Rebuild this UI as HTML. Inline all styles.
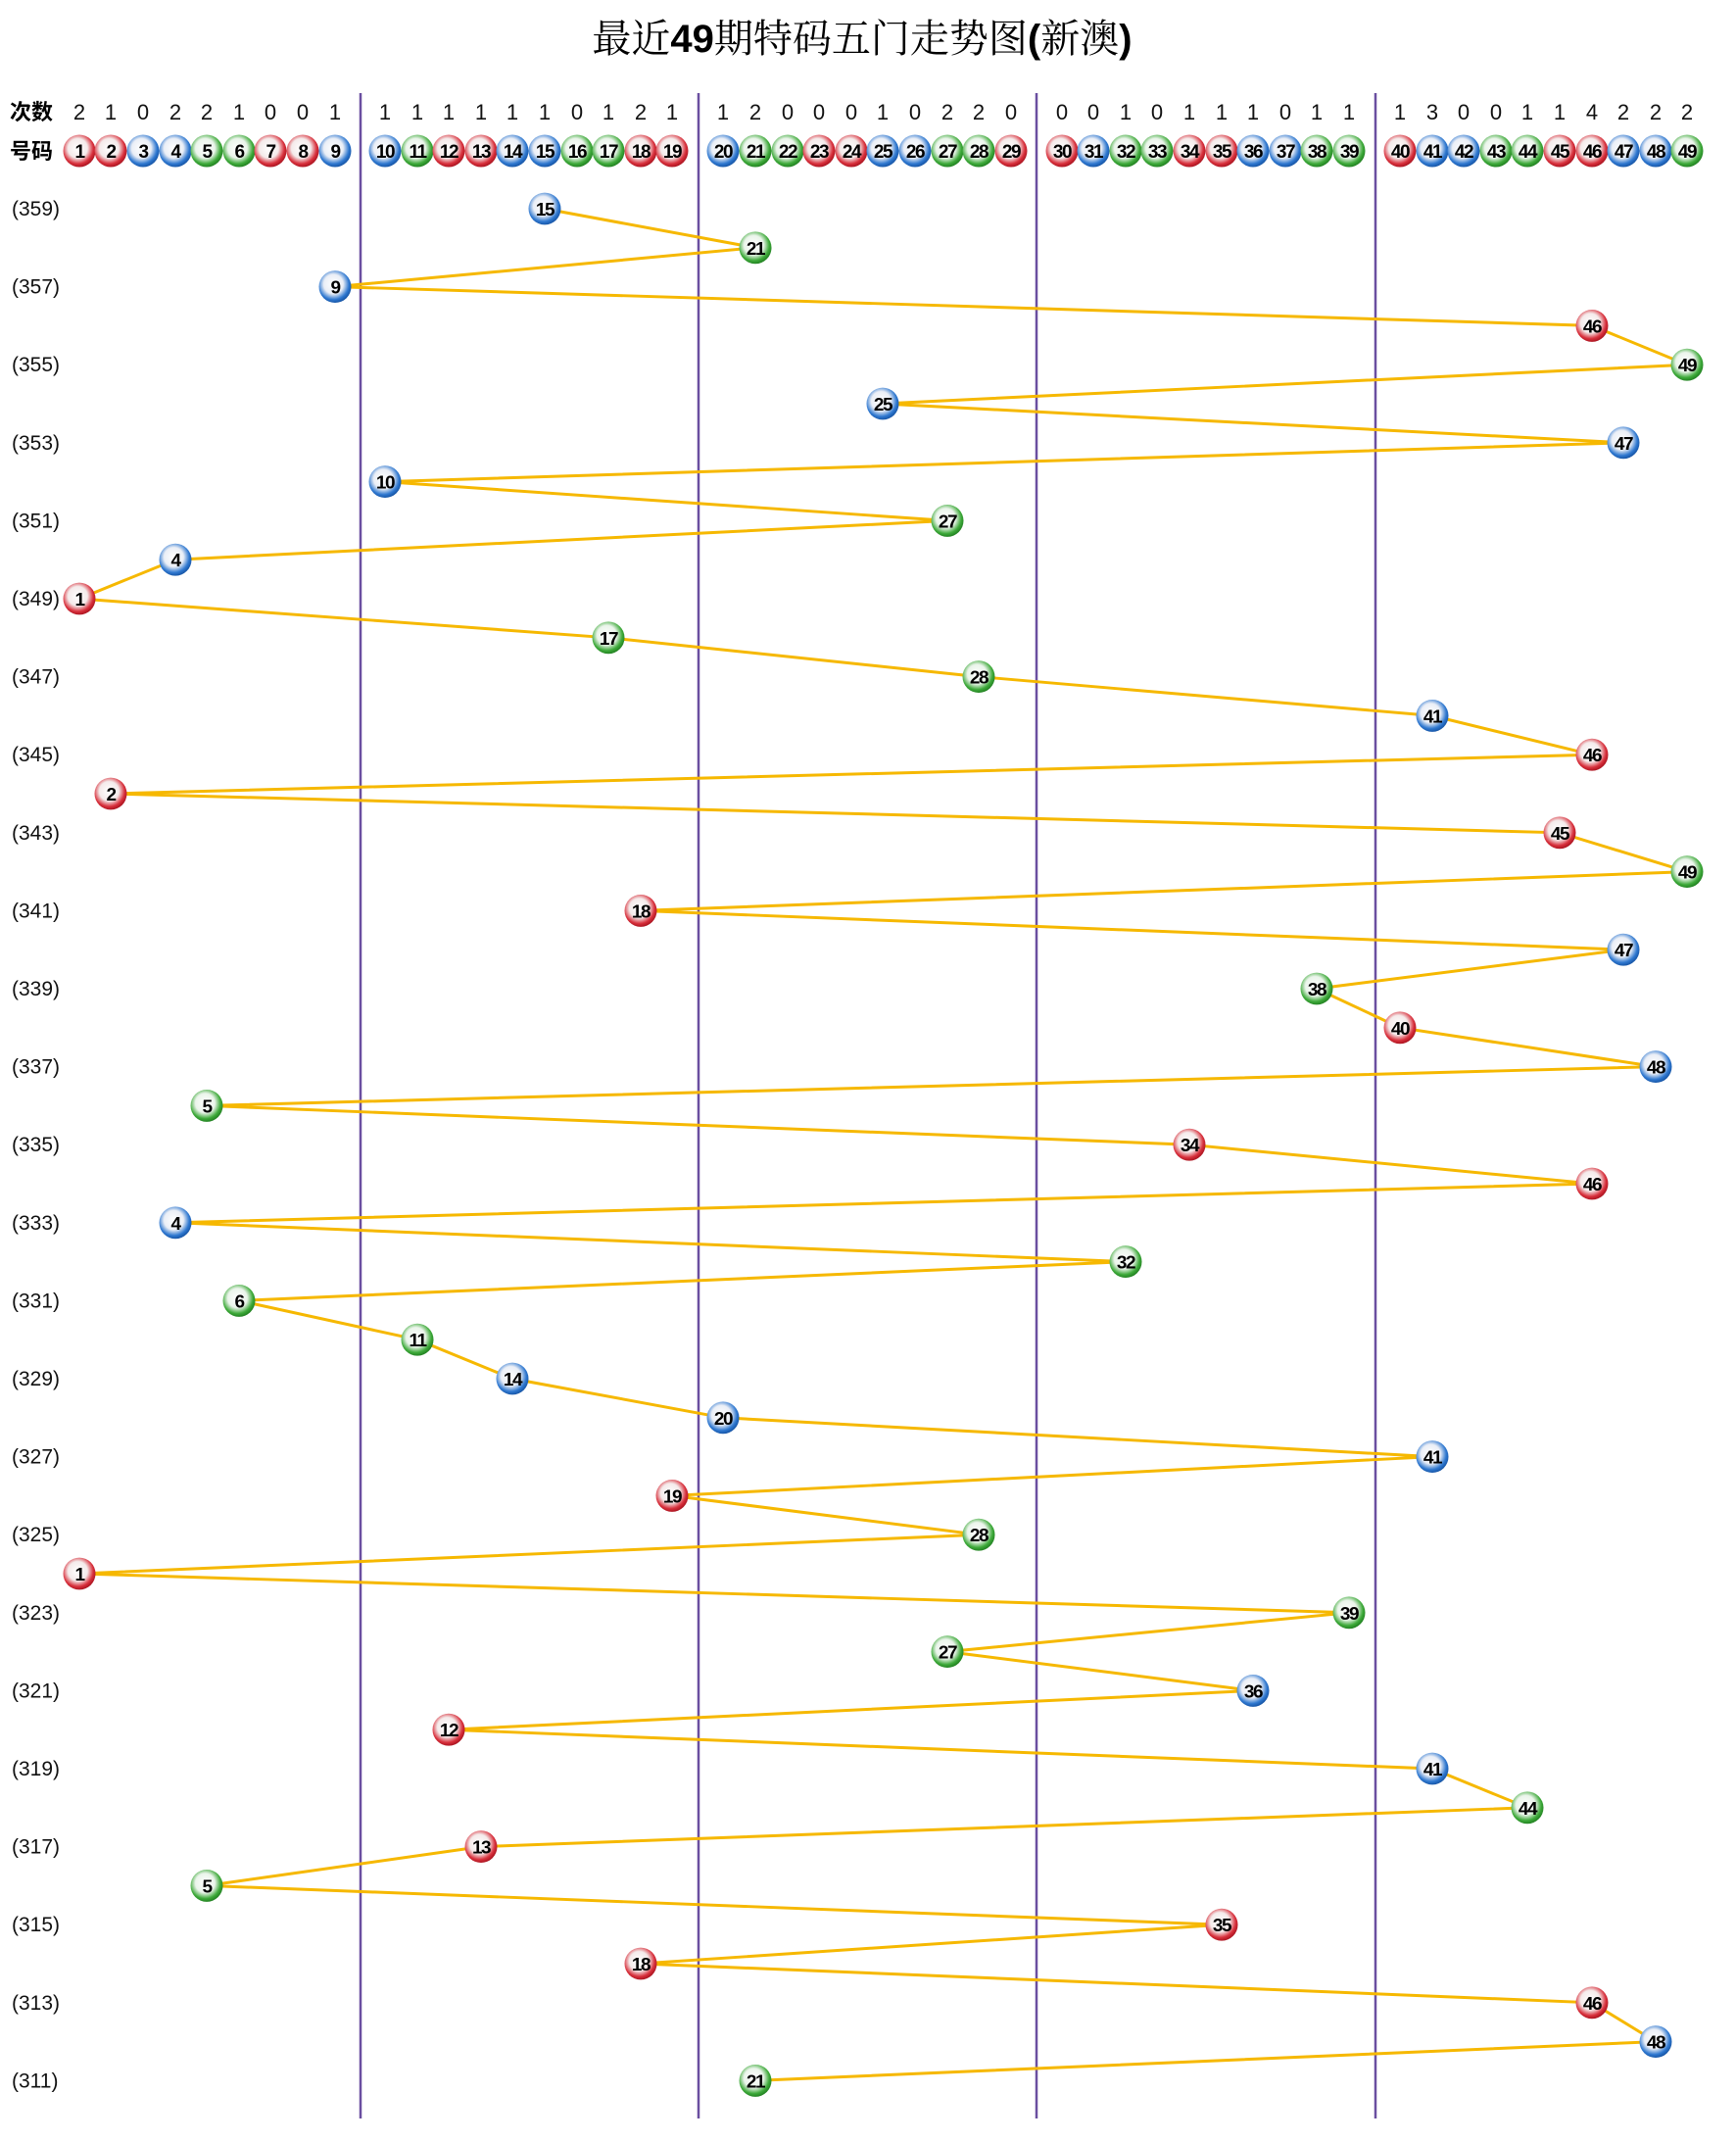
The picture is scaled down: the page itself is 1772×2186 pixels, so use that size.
<!DOCTYPE html>
<html><head><meta charset="utf-8"><style>
html,body{margin:0;padding:0;background:#fff;}
svg{display:block;}
.t{font-family:"Liberation Sans","Noto Sans CJK SC",sans-serif;}
.h{font-family:"Liberation Sans","Noto Sans CJK SC",sans-serif;font-size:22px;fill:#111;text-anchor:middle;}
.lb{font-family:"Liberation Sans",sans-serif;font-size:21px;fill:#111;}
.b text{font-family:"Liberation Sans",sans-serif;font-weight:bold;font-size:19px;fill:#000;text-anchor:middle;letter-spacing:-1.5px;}
</style></head><body>
<svg width="1772" height="2186" viewBox="0 0 1772 2186" xmlns="http://www.w3.org/2000/svg">
<defs>
<radialGradient id="r" cx="45%" cy="42%" r="60%"><stop offset="0" stop-color="#fff"/><stop offset="0.5" stop-color="#f4eaea"/><stop offset="0.8" stop-color="#d8303c"/><stop offset="1" stop-color="#a5101c"/></radialGradient>
<radialGradient id="u" cx="45%" cy="42%" r="60%"><stop offset="0" stop-color="#fff"/><stop offset="0.5" stop-color="#eaeef6"/><stop offset="0.8" stop-color="#2f78d0"/><stop offset="1" stop-color="#1350a0"/></radialGradient>
<radialGradient id="g" cx="45%" cy="42%" r="60%"><stop offset="0" stop-color="#fff"/><stop offset="0.5" stop-color="#eaf4ea"/><stop offset="0.8" stop-color="#3eaa3a"/><stop offset="1" stop-color="#1e7c1e"/></radialGradient>
</defs>
<text x="880" y="53" text-anchor="middle" style="font-family:'Liberation Sans','Noto Serif CJK SC',serif;font-size:40px;fill:#000">最近<tspan font-weight="bold">49</tspan>期特码五门走势图<tspan font-weight="bold">(</tspan>新澳<tspan font-weight="bold">)</tspan></text>
<g stroke="#6a4fa0" stroke-width="2.5">
<line x1="368" y1="95" x2="368" y2="2162"/><line x1="713" y1="95" x2="713" y2="2162"/><line x1="1058" y1="95" x2="1058" y2="2162"/><line x1="1404" y1="95" x2="1404" y2="2162"/>
</g>
<text x="10" y="122" class="t" style="font-size:22px;font-weight:bold">次数</text>
<text x="10" y="162" class="t" style="font-size:22px;font-weight:bold">号码</text>
<g class="h">
<text x="81" y="122">2</text><text x="113" y="122">1</text><text x="146" y="122">0</text><text x="179" y="122">2</text><text x="211" y="122">2</text><text x="244" y="122">1</text><text x="276" y="122">0</text><text x="309" y="122">0</text><text x="342" y="122">1</text>
<text x="393" y="122">1</text><text x="426" y="122">1</text><text x="458" y="122">1</text><text x="491" y="122">1</text><text x="523" y="122">1</text><text x="556" y="122">1</text><text x="589" y="122">0</text><text x="621" y="122">1</text><text x="654" y="122">2</text><text x="686" y="122">1</text>
<text x="738" y="122">1</text><text x="771" y="122">2</text><text x="804" y="122">0</text><text x="836" y="122">0</text><text x="869" y="122">0</text><text x="901" y="122">1</text><text x="934" y="122">0</text><text x="967" y="122">2</text><text x="999" y="122">2</text><text x="1032" y="122">0</text>
<text x="1084" y="122">0</text><text x="1116" y="122">0</text><text x="1149" y="122">1</text><text x="1181" y="122">0</text><text x="1214" y="122">1</text><text x="1247" y="122">1</text><text x="1279" y="122">1</text><text x="1312" y="122">0</text><text x="1344" y="122">1</text><text x="1377" y="122">1</text>
<text x="1429" y="122">1</text><text x="1462" y="122">3</text><text x="1494" y="122">0</text><text x="1527" y="122">0</text><text x="1559" y="122">1</text><text x="1592" y="122">1</text><text x="1625" y="122">4</text><text x="1657" y="122">2</text><text x="1690" y="122">2</text><text x="1722" y="122">2</text>
</g>
<g class="b">
<circle cx="81" cy="154" r="16.5" fill="url(#r)"/><text x="81" y="161">1</text>
<circle cx="113" cy="154" r="16.5" fill="url(#r)"/><text x="113" y="161">2</text>
<circle cx="146" cy="154" r="16.5" fill="url(#u)"/><text x="146" y="161">3</text>
<circle cx="179" cy="154" r="16.5" fill="url(#u)"/><text x="179" y="161">4</text>
<circle cx="211" cy="154" r="16.5" fill="url(#g)"/><text x="211" y="161">5</text>
<circle cx="244" cy="154" r="16.5" fill="url(#g)"/><text x="244" y="161">6</text>
<circle cx="276" cy="154" r="16.5" fill="url(#r)"/><text x="276" y="161">7</text>
<circle cx="309" cy="154" r="16.5" fill="url(#r)"/><text x="309" y="161">8</text>
<circle cx="342" cy="154" r="16.5" fill="url(#u)"/><text x="342" y="161">9</text>
<circle cx="393" cy="154" r="16.5" fill="url(#u)"/><text x="393" y="161">10</text>
<circle cx="426" cy="154" r="16.5" fill="url(#g)"/><text x="426" y="161">11</text>
<circle cx="458" cy="154" r="16.5" fill="url(#r)"/><text x="458" y="161">12</text>
<circle cx="491" cy="154" r="16.5" fill="url(#r)"/><text x="491" y="161">13</text>
<circle cx="523" cy="154" r="16.5" fill="url(#u)"/><text x="523" y="161">14</text>
<circle cx="556" cy="154" r="16.5" fill="url(#u)"/><text x="556" y="161">15</text>
<circle cx="589" cy="154" r="16.5" fill="url(#g)"/><text x="589" y="161">16</text>
<circle cx="621" cy="154" r="16.5" fill="url(#g)"/><text x="621" y="161">17</text>
<circle cx="654" cy="154" r="16.5" fill="url(#r)"/><text x="654" y="161">18</text>
<circle cx="686" cy="154" r="16.5" fill="url(#r)"/><text x="686" y="161">19</text>
<circle cx="738" cy="154" r="16.5" fill="url(#u)"/><text x="738" y="161">20</text>
<circle cx="771" cy="154" r="16.5" fill="url(#g)"/><text x="771" y="161">21</text>
<circle cx="804" cy="154" r="16.5" fill="url(#g)"/><text x="804" y="161">22</text>
<circle cx="836" cy="154" r="16.5" fill="url(#r)"/><text x="836" y="161">23</text>
<circle cx="869" cy="154" r="16.5" fill="url(#r)"/><text x="869" y="161">24</text>
<circle cx="901" cy="154" r="16.5" fill="url(#u)"/><text x="901" y="161">25</text>
<circle cx="934" cy="154" r="16.5" fill="url(#u)"/><text x="934" y="161">26</text>
<circle cx="967" cy="154" r="16.5" fill="url(#g)"/><text x="967" y="161">27</text>
<circle cx="999" cy="154" r="16.5" fill="url(#g)"/><text x="999" y="161">28</text>
<circle cx="1032" cy="154" r="16.5" fill="url(#r)"/><text x="1032" y="161">29</text>
<circle cx="1084" cy="154" r="16.5" fill="url(#r)"/><text x="1084" y="161">30</text>
<circle cx="1116" cy="154" r="16.5" fill="url(#u)"/><text x="1116" y="161">31</text>
<circle cx="1149" cy="154" r="16.5" fill="url(#g)"/><text x="1149" y="161">32</text>
<circle cx="1181" cy="154" r="16.5" fill="url(#g)"/><text x="1181" y="161">33</text>
<circle cx="1214" cy="154" r="16.5" fill="url(#r)"/><text x="1214" y="161">34</text>
<circle cx="1247" cy="154" r="16.5" fill="url(#r)"/><text x="1247" y="161">35</text>
<circle cx="1279" cy="154" r="16.5" fill="url(#u)"/><text x="1279" y="161">36</text>
<circle cx="1312" cy="154" r="16.5" fill="url(#u)"/><text x="1312" y="161">37</text>
<circle cx="1344" cy="154" r="16.5" fill="url(#g)"/><text x="1344" y="161">38</text>
<circle cx="1377" cy="154" r="16.5" fill="url(#g)"/><text x="1377" y="161">39</text>
<circle cx="1429" cy="154" r="16.5" fill="url(#r)"/><text x="1429" y="161">40</text>
<circle cx="1462" cy="154" r="16.5" fill="url(#u)"/><text x="1462" y="161">41</text>
<circle cx="1494" cy="154" r="16.5" fill="url(#u)"/><text x="1494" y="161">42</text>
<circle cx="1527" cy="154" r="16.5" fill="url(#g)"/><text x="1527" y="161">43</text>
<circle cx="1559" cy="154" r="16.5" fill="url(#g)"/><text x="1559" y="161">44</text>
<circle cx="1592" cy="154" r="16.5" fill="url(#r)"/><text x="1592" y="161">45</text>
<circle cx="1625" cy="154" r="16.5" fill="url(#r)"/><text x="1625" y="161">46</text>
<circle cx="1657" cy="154" r="16.5" fill="url(#u)"/><text x="1657" y="161">47</text>
<circle cx="1690" cy="154" r="16.5" fill="url(#u)"/><text x="1690" y="161">48</text>
<circle cx="1722" cy="154" r="16.5" fill="url(#g)"/><text x="1722" y="161">49</text>
</g>
<g transform="matrix(1 0 0 0.995 0 1.065)">
<g class="lb">
<text x="12" y="220">(359)</text><text x="12" y="300">(357)</text><text x="12" y="380">(355)</text><text x="12" y="460">(353)</text><text x="12" y="540">(351)</text><text x="12" y="620">(349)</text><text x="12" y="700">(347)</text><text x="12" y="780">(345)</text><text x="12" y="860">(343)</text><text x="12" y="940">(341)</text><text x="12" y="1020">(339)</text><text x="12" y="1100">(337)</text><text x="12" y="1180">(335)</text><text x="12" y="1260">(333)</text><text x="12" y="1340">(331)</text><text x="12" y="1420">(329)</text><text x="12" y="1500">(327)</text><text x="12" y="1580">(325)</text><text x="12" y="1660">(323)</text><text x="12" y="1740">(321)</text><text x="12" y="1820">(319)</text><text x="12" y="1900">(317)</text><text x="12" y="1980">(315)</text><text x="12" y="2060">(313)</text><text x="12" y="2140">(311)</text>
</g>
<polyline fill="none" stroke="#f6b800" stroke-width="3" points="556,213 771,253 342,293 1625,333 1722,373 901,413 1657,453 393,493 967,533 179,573 81,613 621,653 999,693 1462,733 1625,773 113,813 1592,853 1722,893 654,933 1657,973 1344,1013 1429,1053 1690,1093 211,1133 1214,1173 1625,1213 179,1253 1149,1293 244,1333 426,1373 523,1413 738,1453 1462,1493 686,1533 999,1573 81,1613 1377,1653 967,1693 1279,1733 458,1773 1462,1813 1559,1853 491,1893 211,1933 1247,1973 654,2013 1625,2053 1690,2093 771,2133"/>
<g class="b">
<circle cx="556" cy="213" r="16.5" fill="url(#u)"/><text x="556" y="220">15</text>
<circle cx="771" cy="253" r="16.5" fill="url(#g)"/><text x="771" y="260">21</text>
<circle cx="342" cy="293" r="16.5" fill="url(#u)"/><text x="342" y="300">9</text>
<circle cx="1625" cy="333" r="16.5" fill="url(#r)"/><text x="1625" y="340">46</text>
<circle cx="1722" cy="373" r="16.5" fill="url(#g)"/><text x="1722" y="380">49</text>
<circle cx="901" cy="413" r="16.5" fill="url(#u)"/><text x="901" y="420">25</text>
<circle cx="1657" cy="453" r="16.5" fill="url(#u)"/><text x="1657" y="460">47</text>
<circle cx="393" cy="493" r="16.5" fill="url(#u)"/><text x="393" y="500">10</text>
<circle cx="967" cy="533" r="16.5" fill="url(#g)"/><text x="967" y="540">27</text>
<circle cx="179" cy="573" r="16.5" fill="url(#u)"/><text x="179" y="580">4</text>
<circle cx="81" cy="613" r="16.5" fill="url(#r)"/><text x="81" y="620">1</text>
<circle cx="621" cy="653" r="16.5" fill="url(#g)"/><text x="621" y="660">17</text>
<circle cx="999" cy="693" r="16.5" fill="url(#g)"/><text x="999" y="700">28</text>
<circle cx="1462" cy="733" r="16.5" fill="url(#u)"/><text x="1462" y="740">41</text>
<circle cx="1625" cy="773" r="16.5" fill="url(#r)"/><text x="1625" y="780">46</text>
<circle cx="113" cy="813" r="16.5" fill="url(#r)"/><text x="113" y="820">2</text>
<circle cx="1592" cy="853" r="16.5" fill="url(#r)"/><text x="1592" y="860">45</text>
<circle cx="1722" cy="893" r="16.5" fill="url(#g)"/><text x="1722" y="900">49</text>
<circle cx="654" cy="933" r="16.5" fill="url(#r)"/><text x="654" y="940">18</text>
<circle cx="1657" cy="973" r="16.5" fill="url(#u)"/><text x="1657" y="980">47</text>
<circle cx="1344" cy="1013" r="16.5" fill="url(#g)"/><text x="1344" y="1020">38</text>
<circle cx="1429" cy="1053" r="16.5" fill="url(#r)"/><text x="1429" y="1060">40</text>
<circle cx="1690" cy="1093" r="16.5" fill="url(#u)"/><text x="1690" y="1100">48</text>
<circle cx="211" cy="1133" r="16.5" fill="url(#g)"/><text x="211" y="1140">5</text>
<circle cx="1214" cy="1173" r="16.5" fill="url(#r)"/><text x="1214" y="1180">34</text>
<circle cx="1625" cy="1213" r="16.5" fill="url(#r)"/><text x="1625" y="1220">46</text>
<circle cx="179" cy="1253" r="16.5" fill="url(#u)"/><text x="179" y="1260">4</text>
<circle cx="1149" cy="1293" r="16.5" fill="url(#g)"/><text x="1149" y="1300">32</text>
<circle cx="244" cy="1333" r="16.5" fill="url(#g)"/><text x="244" y="1340">6</text>
<circle cx="426" cy="1373" r="16.5" fill="url(#g)"/><text x="426" y="1380">11</text>
<circle cx="523" cy="1413" r="16.5" fill="url(#u)"/><text x="523" y="1420">14</text>
<circle cx="738" cy="1453" r="16.5" fill="url(#u)"/><text x="738" y="1460">20</text>
<circle cx="1462" cy="1493" r="16.5" fill="url(#u)"/><text x="1462" y="1500">41</text>
<circle cx="686" cy="1533" r="16.5" fill="url(#r)"/><text x="686" y="1540">19</text>
<circle cx="999" cy="1573" r="16.5" fill="url(#g)"/><text x="999" y="1580">28</text>
<circle cx="81" cy="1613" r="16.5" fill="url(#r)"/><text x="81" y="1620">1</text>
<circle cx="1377" cy="1653" r="16.5" fill="url(#g)"/><text x="1377" y="1660">39</text>
<circle cx="967" cy="1693" r="16.5" fill="url(#g)"/><text x="967" y="1700">27</text>
<circle cx="1279" cy="1733" r="16.5" fill="url(#u)"/><text x="1279" y="1740">36</text>
<circle cx="458" cy="1773" r="16.5" fill="url(#r)"/><text x="458" y="1780">12</text>
<circle cx="1462" cy="1813" r="16.5" fill="url(#u)"/><text x="1462" y="1820">41</text>
<circle cx="1559" cy="1853" r="16.5" fill="url(#g)"/><text x="1559" y="1860">44</text>
<circle cx="491" cy="1893" r="16.5" fill="url(#r)"/><text x="491" y="1900">13</text>
<circle cx="211" cy="1933" r="16.5" fill="url(#g)"/><text x="211" y="1940">5</text>
<circle cx="1247" cy="1973" r="16.5" fill="url(#r)"/><text x="1247" y="1980">35</text>
<circle cx="654" cy="2013" r="16.5" fill="url(#r)"/><text x="654" y="2020">18</text>
<circle cx="1625" cy="2053" r="16.5" fill="url(#r)"/><text x="1625" y="2060">46</text>
<circle cx="1690" cy="2093" r="16.5" fill="url(#u)"/><text x="1690" y="2100">48</text>
<circle cx="771" cy="2133" r="16.5" fill="url(#g)"/><text x="771" y="2140">21</text>
</g>
</g>
</svg>
</body></html>
